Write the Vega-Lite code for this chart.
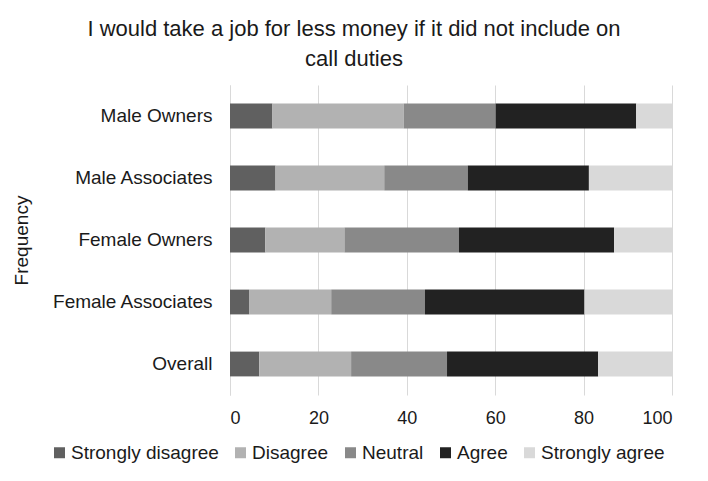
{
  "$schema": "https://vega.github.io/schema/vega-lite/v6.json",
  "width": 442,
  "height": 310,
  "autosize": {"type": "none"},
  "padding": {"left": 230, "top": 85, "right": 36, "bottom": 86},
  "background": "white",
  "title": {
    "text": ["I would take a job for less money if it did not include on", "call duties"],
    "font": "Liberation Sans",
    "fontSize": 22,
    "fontWeight": "normal",
    "color": "#1a1a1a",
    "lineHeight": 30,
    "anchor": "middle",
    "dx": -97,
    "offset": 14
  },
  "data": {
    "values": [
      {"group": "Male Owners", "response": "Strongly disagree", "rank": 1, "value": 9.6},
      {"group": "Male Owners", "response": "Disagree", "rank": 2, "value": 29.7},
      {"group": "Male Owners", "response": "Neutral", "rank": 3, "value": 20.8},
      {"group": "Male Owners", "response": "Agree", "rank": 4, "value": 31.8},
      {"group": "Male Owners", "response": "Strongly agree", "rank": 5, "value": 8.1},
      {"group": "Male Associates", "response": "Strongly disagree", "rank": 1, "value": 10.3},
      {"group": "Male Associates", "response": "Disagree", "rank": 2, "value": 24.6},
      {"group": "Male Associates", "response": "Neutral", "rank": 3, "value": 18.9},
      {"group": "Male Associates", "response": "Agree", "rank": 4, "value": 27.4},
      {"group": "Male Associates", "response": "Strongly agree", "rank": 5, "value": 18.8},
      {"group": "Female Owners", "response": "Strongly disagree", "rank": 1, "value": 8.0},
      {"group": "Female Owners", "response": "Disagree", "rank": 2, "value": 17.9},
      {"group": "Female Owners", "response": "Neutral", "rank": 3, "value": 25.9},
      {"group": "Female Owners", "response": "Agree", "rank": 4, "value": 35.1},
      {"group": "Female Owners", "response": "Strongly agree", "rank": 5, "value": 13.1},
      {"group": "Female Associates", "response": "Strongly disagree", "rank": 1, "value": 4.4},
      {"group": "Female Associates", "response": "Disagree", "rank": 2, "value": 18.5},
      {"group": "Female Associates", "response": "Neutral", "rank": 3, "value": 21.2},
      {"group": "Female Associates", "response": "Agree", "rank": 4, "value": 36.1},
      {"group": "Female Associates", "response": "Strongly agree", "rank": 5, "value": 19.8},
      {"group": "Overall", "response": "Strongly disagree", "rank": 1, "value": 6.6},
      {"group": "Overall", "response": "Disagree", "rank": 2, "value": 20.8},
      {"group": "Overall", "response": "Neutral", "rank": 3, "value": 21.7},
      {"group": "Overall", "response": "Agree", "rank": 4, "value": 34.2},
      {"group": "Overall", "response": "Strongly agree", "rank": 5, "value": 16.7}
    ]
  },
  "mark": {"type": "bar"},
  "encoding": {
    "y": {
      "field": "group",
      "type": "nominal",
      "sort": ["Male Owners", "Male Associates", "Female Owners", "Female Associates", "Overall"],
      "scale": {"paddingInner": 0.6, "paddingOuter": 0.3},
      "axis": {
        "title": "Frequency",
        "titleFont": "Liberation Sans",
        "titleFontSize": 19,
        "titleFontWeight": "normal",
        "titleColor": "#1a1a1a",
        "titleAngle": 270,
        "titleX": -209,
        "titleY": 155,
        "titleAlign": "center",
        "titleBaseline": "middle",
        "labelFont": "Liberation Sans",
        "labelFontSize": 19,
        "labelColor": "#1a1a1a",
        "labelPadding": 18,
        "ticks": false,
        "domain": true,
        "domainColor": "#d9d9d9",
        "grid": false
      }
    },
    "x": {
      "field": "value",
      "type": "quantitative",
      "stack": "zero",
      "scale": {"domain": [0, 100], "nice": false},
      "axis": {
        "title": null,
        "values": [0, 20, 40, 60, 80, 100],
        "labelFont": "Liberation Sans",
        "labelFontSize": 18,
        "labelColor": "#1a1a1a",
        "labelPadding": 14,
        "ticks": false,
        "domain": false,
        "grid": true,
        "gridColor": "#d9d9d9",
        "gridWidth": 1
      }
    },
    "color": {
      "field": "response",
      "type": "nominal",
      "scale": {
        "domain": ["Strongly disagree", "Disagree", "Neutral", "Agree", "Strongly agree"],
        "range": ["#606060", "#b2b2b2", "#898989", "#222222", "#d9d9d9"]
      },
      "legend": {
        "title": null,
        "orient": "none",
        "direction": "horizontal",
        "legendX": -180,
        "legendY": 358,
        "symbolType": "square",
        "symbolSize": 121,
        "symbolStrokeWidth": 0,
        "labelFont": "Liberation Sans",
        "labelFontSize": 19,
        "labelColor": "#1a1a1a",
        "labelOffset": 2,
        "columnPadding": 12
      }
    },
    "order": {"field": "rank", "type": "quantitative"}
  },
  "config": {
    "view": {"stroke": null}
  }
}
